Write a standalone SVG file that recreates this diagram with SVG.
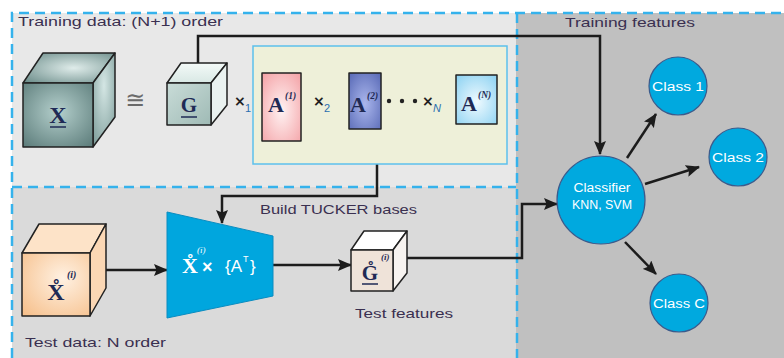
<svg xmlns="http://www.w3.org/2000/svg" width="784" height="358" viewBox="0 0 784 358">
  <defs>
    <style>
      .lbl { font-family: "Liberation Sans", "DejaVu Sans", sans-serif; font-size: 13px; fill: #3a3050; }
      .dash { fill: none; stroke: #35b2ec; stroke-width: 2.5; stroke-dasharray: 10 6; }
      .conn { fill: none; stroke: #1c1c1c; stroke-width: 2.5; }
      .edge { stroke: #222; stroke-width: 1.5; stroke-linejoin: round; }
      .cls { fill: #00a9df; stroke: #3b5b8c; stroke-width: 1.2; }
      .clsText { font-family: "Liberation Sans", "DejaVu Sans", sans-serif; font-size: 12.5px; fill: #ffffff; text-anchor: middle; }
      .math { font-family: "Liberation Serif", "DejaVu Serif", serif; font-weight: bold; fill: #1f2a55; }
      .sup { font-family: "Liberation Serif", "DejaVu Serif", serif; font-style: italic; font-weight: bold; fill: #1f2a55; }
      .times { font-family: "DejaVu Sans", sans-serif; font-weight: bold; fill: #222; }
      .sub { font-family: "Liberation Sans", sans-serif; font-size: 11px; fill: #2a6fb0; }
      .wt { font-family: "Liberation Sans", sans-serif; fill: #ffffff; }
    </style>
    <marker id="ah" viewBox="0 0 14 12" refX="13" refY="6" markerWidth="14" markerHeight="12" markerUnits="userSpaceOnUse" orient="auto">
      <path d="M0,0 L14,6 L0,12 L2.5,6 z" fill="#1c1c1c"/>
    </marker>
    <radialGradient id="tealFront" cx="0.5" cy="0.45" r="0.7">
      <stop offset="0" stop-color="#b4cfcc"/>
      <stop offset="1" stop-color="#5f7f7d"/>
    </radialGradient>
    <radialGradient id="tealTop" cx="0.55" cy="0.5" r="0.7">
      <stop offset="0" stop-color="#dfecea"/>
      <stop offset="1" stop-color="#6d8e8b"/>
    </radialGradient>
    <radialGradient id="tealSide" cx="0.5" cy="0.35" r="0.8">
      <stop offset="0" stop-color="#d4e6e4"/>
      <stop offset="1" stop-color="#7a9a97"/>
    </radialGradient>
    <linearGradient id="gFront" x1="0" y1="0" x2="1" y2="1">
      <stop offset="0" stop-color="#c9dcd8"/>
      <stop offset="1" stop-color="#9fbab5"/>
    </linearGradient>
    <linearGradient id="gTop" x1="0" y1="0" x2="0" y2="1">
      <stop offset="0" stop-color="#f4faf8"/>
      <stop offset="1" stop-color="#d8e8e4"/>
    </linearGradient>
    <radialGradient id="peach" cx="0.6" cy="0.4" r="0.8">
      <stop offset="0" stop-color="#fff1e2"/>
      <stop offset="1" stop-color="#f6c08c"/>
    </radialGradient>
    <radialGradient id="pink" cx="0.5" cy="0.55" r="0.7">
      <stop offset="0" stop-color="#fff2f2"/>
      <stop offset="1" stop-color="#f4a4a8"/>
    </radialGradient>
    <radialGradient id="violet" cx="0.5" cy="0.55" r="0.7">
      <stop offset="0" stop-color="#aab6ec"/>
      <stop offset="1" stop-color="#5b6cb8"/>
    </radialGradient>
    <radialGradient id="sky" cx="0.5" cy="0.55" r="0.7">
      <stop offset="0" stop-color="#effaff"/>
      <stop offset="1" stop-color="#8fd3f2"/>
    </radialGradient>
  </defs>

  <!-- background panels -->
  <rect x="0" y="0" width="784" height="358" fill="#ffffff"/>
  <rect x="12" y="13" width="504" height="174" fill="#e8e8e8"/>
  <rect x="12" y="187" width="504" height="171" fill="#dadada"/>
  <rect x="516" y="13" width="268" height="345" fill="#c0c0c0"/>
  <path class="dash" d="M12,358 V13 H784"/>
  <path class="dash" d="M12,187 H516"/>
  <path class="dash" d="M517,13 V358"/>

  <!-- panel captions -->
  <text class="lbl" x="18" y="26" textLength="205" lengthAdjust="spacingAndGlyphs">Training data: (N+1) order</text>
  <text class="lbl" x="565" y="27" textLength="130" lengthAdjust="spacingAndGlyphs">Training features</text>
  <text class="lbl" x="25" y="347" textLength="141" lengthAdjust="spacingAndGlyphs">Test data: N order</text>

  <!-- connectors -->
  <g id="connectors">
    <path class="conn" d="M198,63 V36 H600 V154" marker-end="url(#ah)"/>
    <path class="conn" d="M377,164 V196 H222 V223" marker-end="url(#ah)"/>
    <path class="conn" d="M106,270 H167" marker-end="url(#ah)"/>
    <path class="conn" d="M273,265 H351" marker-end="url(#ah)"/>
    <path class="conn" d="M407,258 H522 V204 H557" marker-end="url(#ah)"/>
    <path class="conn" d="M627,158 L656,114" marker-end="url(#ah)"/>
    <path class="conn" d="M645,184 L699,167" marker-end="url(#ah)"/>
    <path class="conn" d="M625,242 L656,274" marker-end="url(#ah)"/>
  </g>

  <!-- training tensor X -->
  <g id="tensorX">
    <polygon class="edge" points="23,83 43,53 115,53 93,83" fill="url(#tealTop)"/>
    <polygon class="edge" points="93,83 115,53 115,117 93,147" fill="url(#tealSide)"/>
    <rect class="edge" x="23" y="83" width="70" height="64" fill="url(#tealFront)"/>
    <text class="math" x="58" y="123" font-size="24" text-anchor="middle">X</text>
    <line x1="50" y1="127" x2="66" y2="127" stroke="#1f2a55" stroke-width="1.5"/>
  </g>

  <text x="135" y="108" font-family="DejaVu Sans, sans-serif" font-size="24" fill="#6a6a6a" text-anchor="middle">≅</text>

  <!-- core tensor G -->
  <g id="coreG">
    <polygon class="edge" points="167,83 181,63 227,63 211,83" fill="url(#gTop)"/>
    <polygon class="edge" points="211,83 227,63 227,105 211,125" fill="#eaf2f0"/>
    <rect class="edge" x="167" y="83" width="44" height="42" fill="url(#gFront)"/>
    <text class="math" x="189" y="112" font-size="21" text-anchor="middle">G</text>
    <line x1="181" y1="117" x2="197" y2="117" stroke="#1f2a55" stroke-width="1.5"/>
  </g>

  <text class="times" x="234" y="106" font-size="14">×</text>
  <text class="sub" x="245" y="112">1</text>

  <!-- factor matrices -->
  <g id="factors">
    <rect x="253" y="46" width="254" height="118" fill="#eef0d9" stroke="#5cc0ec" stroke-width="1.5"/>
    <g id="A1">
      <rect class="edge" x="262" y="73" width="39" height="68" fill="url(#pink)"/>
      <text class="math" x="268" y="112" font-size="22">A</text>
      <text class="sup" x="285" y="99" font-size="9.5">(1)</text>
    </g>
    <text class="times" x="313" y="106" font-size="14">×</text>
    <text class="sub" x="324" y="112">2</text>
    <g id="A2">
      <rect class="edge" x="349" y="73" width="32" height="56" fill="url(#violet)"/>
      <text class="math" x="350" y="112" font-size="22">A</text>
      <text class="sup" x="367" y="99" font-size="9.5">(2)</text>
    </g>
    <g fill="#222">
      <circle cx="389" cy="101" r="2.2"/>
      <circle cx="402" cy="101" r="2.2"/>
      <circle cx="415" cy="101" r="2.2"/>
    </g>
    <text class="times" x="422" y="106" font-size="14">×</text>
    <text class="sub" x="433" y="112" font-style="italic">N</text>
    <g id="AN">
      <rect class="edge" x="456" y="75" width="41" height="49" fill="url(#sky)"/>
      <text class="math" x="461" y="111" font-size="22">A</text>
      <text class="sup" x="478" y="98" font-size="9.5">(N)</text>
    </g>
  </g>

  <text class="lbl" x="260" y="214" textLength="157" lengthAdjust="spacingAndGlyphs">Build TUCKER bases</text>

  <!-- test tensor -->
  <g id="testX">
    <polygon class="edge" points="22,253 39,224 106,224 90,253" fill="#fde3c8"/>
    <polygon class="edge" points="90,253 106,224 106,288 90,316" fill="#fbd7b4"/>
    <rect class="edge" x="22" y="253" width="68" height="63" fill="url(#peach)"/>
    <text class="math" x="56" y="300" font-size="24" text-anchor="middle">X̊</text>
    <text class="sup" x="67" y="278" font-size="10">(i)</text>
  </g>

  <!-- projection -->
  <g id="projection">
    <polygon points="167,212 273,236 273,296 167,318" fill="#00a6de" stroke="#0a8cc0" stroke-width="1"/>
    <text x="190" y="273" font-family="Liberation Serif, serif" font-weight="bold" font-size="22" fill="#ffffff" text-anchor="middle">X̊</text>
    <text x="197" y="253" font-family="Liberation Serif, serif" font-style="italic" font-size="9" fill="#ffffff">(i)</text>
    <text class="wt" x="202" y="273" font-weight="bold" font-size="18">×</text>
    <text class="wt" x="225" y="272" font-size="17">{A</text>
    <text class="wt" x="243" y="262" font-size="9">T</text>
    <text class="wt" x="250" y="272" font-size="17">}</text>
  </g>

  <!-- test core tensor -->
  <g id="testG">
    <polygon class="edge" points="351,250 364,231 407,231 393,250" fill="#ffffff"/>
    <polygon class="edge" points="393,250 407,231 407,273 393,291" fill="#f7f3f0"/>
    <rect class="edge" x="351" y="250" width="42" height="41" fill="#efe3d9"/>
    <text class="math" x="370" y="280" font-size="21" text-anchor="middle">G̊</text>
    <text class="sup" x="381" y="260" font-size="9">(i)</text>
    <line x1="362" y1="284" x2="378" y2="284" stroke="#1f2a55" stroke-width="1.5"/>
  </g>
  <text class="lbl" x="355" y="318" textLength="98" lengthAdjust="spacingAndGlyphs">Test features</text>

  <!-- classifier and classes -->
  <g id="classifier">
    <circle class="cls" cx="601" cy="200" r="44"/>
    <text class="clsText" x="602" y="192" textLength="57" lengthAdjust="spacingAndGlyphs">Classifier</text>
    <text class="clsText" x="602" y="209" textLength="60" lengthAdjust="spacingAndGlyphs">KNN, SVM</text>
  </g>
  <g id="class1">
    <circle class="cls" cx="678" cy="86" r="29"/>
    <text class="clsText" x="678" y="91" textLength="52" lengthAdjust="spacingAndGlyphs">Class 1</text>
  </g>
  <g id="class2">
    <circle class="cls" cx="738" cy="157" r="29"/>
    <text class="clsText" x="738" y="162" textLength="52" lengthAdjust="spacingAndGlyphs">Class 2</text>
  </g>
  <g id="classC">
    <circle class="cls" cx="679" cy="303" r="29"/>
    <text class="clsText" x="679" y="308" textLength="52" lengthAdjust="spacingAndGlyphs">Class C</text>
  </g>
</svg>
